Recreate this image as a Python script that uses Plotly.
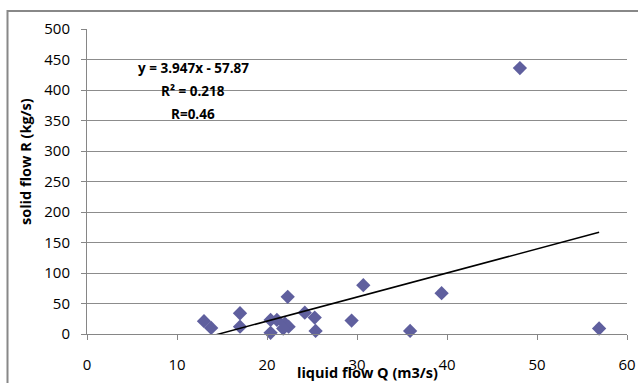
import plotly.graph_objects as go

# Data
liquid_flow_q = [13.0, 13.8, 17.0, 17.0, 20.4, 20.4, 21.1, 22.0, 22.3, 22.4, 21.8, 24.2, 25.3, 25.4, 29.4, 30.7, 35.9, 39.4, 48.1, 56.9]
solid_flow_r = [21, 10, 34, 12, 23, 2, 23, 17, 61, 12, 9, 35, 27, 5, 22, 80, 5, 67, 436, 9]

slope = 3.947
intercept = -57.87
eq_lines = ["y = 3.947x - 57.87", "R² = 0.218", "R=0.46"]

x_ticks = [0, 10, 20, 30, 40, 50, 60]
y_ticks = [0, 50, 100, 150, 200, 250, 300, 350, 400, 450, 500]

trend_x = [min(liquid_flow_q), max(liquid_flow_q)]
trend_y = [slope * v + intercept for v in trend_x]

W, H = 638, 383
L, R, T, B = 87, 11, 29, 49
pw, ph = W - L - R, H - T - B

def px_to_paper(px, py):
    return (px - L) / pw, (H - B - py) / ph

fig = go.Figure()
fig.add_trace(go.Scatter(
    x=liquid_flow_q, y=solid_flow_r, mode="markers",
    marker=dict(symbol="diamond", size=11, color="#5F5F9E", line=dict(width=0)),
    showlegend=False, cliponaxis=False,
))
fig.add_trace(go.Scatter(
    x=trend_x, y=trend_y, mode="lines",
    line=dict(color="black", width=1.5), showlegend=False,
))

tick_font = dict(family="Open Sans, Liberation Sans, sans-serif", size=15, color="#000000")
title_font = dict(family="Open Sans, sans-serif", size=14.5, color="#000000")
eq_font = dict(family="Open Sans, sans-serif", size=13.5, color="#000000")

fig.update_xaxes(
    range=[0, 60], tickvals=x_ticks, showgrid=False, zeroline=False, automargin=False,
    showline=True, linecolor="#868686", linewidth=1,
    ticks="outside", ticklen=5, tickcolor="#868686", tickfont=tick_font,
    ticklabelstandoff=12,
)
fig.update_yaxes(
    range=[0, 500], tickvals=y_ticks, showgrid=True, gridcolor="#8c8c8c", gridwidth=1,
    zeroline=False, showline=True, linecolor="#868686", linewidth=1, automargin=False,
    ticks="outside", ticklen=5, tickcolor="#868686", tickfont=tick_font,
    ticklabelstandoff=8,
)

annotations = []
ax, ay = px_to_paper(367, 372)
annotations.append(dict(text="<b>liquid flow Q (m3/s)</b>", x=ax, y=ay, xref="paper", yref="paper",
                        showarrow=False, font=title_font, xanchor="center", yanchor="middle"))
ax, ay = px_to_paper(25, 162)
annotations.append(dict(text="<b>solid flow R (kg/s)</b>", x=ax, y=ay, xref="paper", yref="paper",
                        showarrow=False, font=title_font, textangle=-90, xanchor="center", yanchor="middle"))
for txt, py in zip(eq_lines, [68, 91, 114]):
    ax, ay = px_to_paper(193, py)
    annotations.append(dict(text="<b>" + txt + "</b>", x=ax, y=ay, xref="paper", yref="paper",
                            showarrow=False, font=eq_font, xanchor="center", yanchor="middle"))

x0, y1 = px_to_paper(7.5, 11)
x1, y0 = px_to_paper(650, 400)
fig.add_shape(type="rect", xref="paper", yref="paper", x0=x0, x1=x1, y0=y0, y1=y1,
              line=dict(color="#888888", width=2), layer="below")

fig.update_layout(
    width=W, height=H, margin=dict(l=L, r=R, t=T, b=B, autoexpand=False),
    plot_bgcolor="white", paper_bgcolor="white",
    annotations=annotations,
)

fig.write_html("out.html")
